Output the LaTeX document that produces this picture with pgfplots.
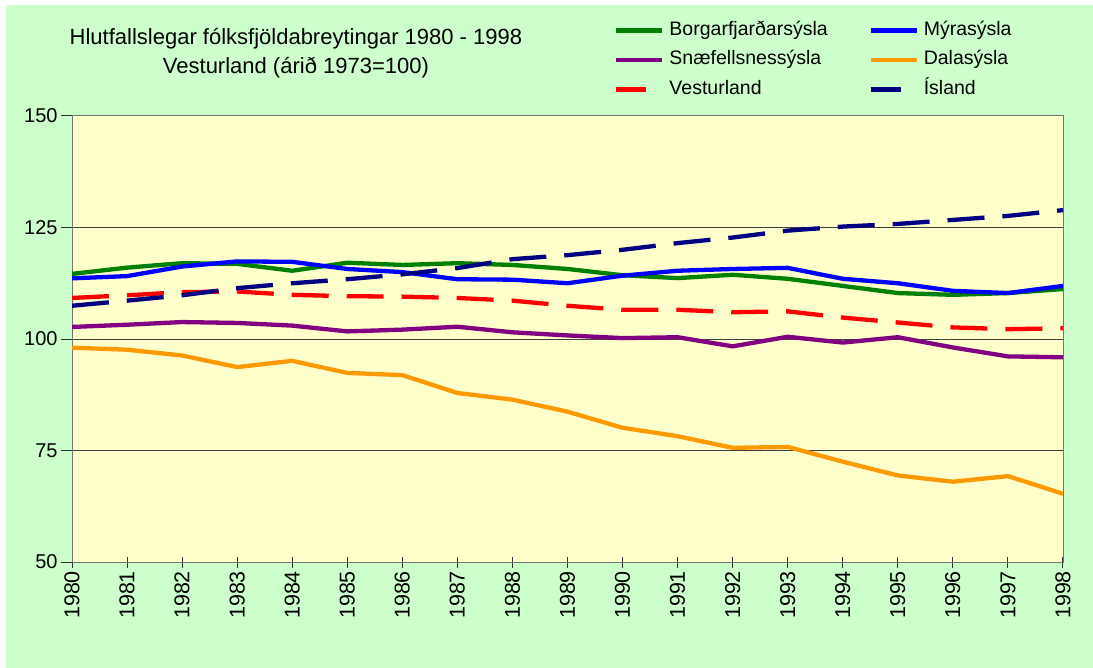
\documentclass[border=0pt]{standalone}
\usepackage{fontspec}
\setmainfont{Liberation Sans}
\usepackage{pgfplots}
\usepackage{pgfplotstable}
\pgfplotsset{compat=1.18}
\definecolor{bgg}{HTML}{CCFFCC}
\definecolor{plotbg}{HTML}{FFFFCC}
\definecolor{cgreen}{HTML}{008000}
\definecolor{cblue}{HTML}{0000FF}
\definecolor{cpurple}{HTML}{800080}
\definecolor{corange}{HTML}{FF9900}
\definecolor{cred}{HTML}{FF0000}
\definecolor{cnavy}{HTML}{000080}
\pgfplotsset{
  longleg/.style={legend image code/.code={\draw[##1] (0pt,0pt) -- (46pt,0pt); \path (51pt,0pt);}},
  shortleg/.style={legend image code/.code={\draw[##1,solid] (0pt,0pt) -- (30pt,0pt); \path (51pt,0pt);}},
}

\pgfplotstableread{
year borg myra snae dala vest isl
1980 114.6 113.6 102.7 98.05 109.2 107.45
1981 116.0 114.1 103.2 97.6 109.8 108.6
1982 117.0 116.25 103.8 96.3 110.5 109.8
1983 116.85 117.4 103.6 93.7 110.65 111.4
1984 115.3 117.3 103.0 95.1 109.9 112.5
1985 117.1 115.7 101.7 92.4 109.6 113.4
1986 116.6 115.0 102.1 91.9 109.5 114.5
1987 117.0 113.4 102.75 87.9 109.2 115.9
1988 116.6 113.3 101.5 86.4 108.6 117.9
1989 115.7 112.5 100.8 83.7 107.45 118.8
1990 114.3 114.2 100.2 80.1 106.55 120.0
1991 113.65 115.3 100.4 78.2 106.55 121.5
1992 114.4 115.7 98.35 75.6 106.0 122.75
1993 113.5 115.95 100.5 75.8 106.2 124.3
1994 111.9 113.5 99.2 72.5 104.8 125.2
1995 110.3 112.5 100.4 69.4 103.7 125.8
1996 109.9 110.8 98.1 68.0 102.6 126.7
1997 110.3 110.3 96.1 69.25 102.2 127.6
1998 111.2 111.9 95.9 65.3 102.4 128.9
}\data

\begin{document}
\begin{tikzpicture}
\fill[white] (0pt,0pt) rectangle (1093pt,-668pt);
\fill[bgg] (6pt,-5pt) rectangle (1093pt,-668pt);
\begin{axis}[
  at={(72pt,-562pt)}, anchor=south west,
  scale only axis, width=991pt, height=446pt,
  xmin=1980, xmax=1998, ymin=50, ymax=150,
  axis background/.style={fill=plotbg},
  axis line style={draw=black!55, line width=1pt},
  xtick={1980,...,1998}, ytick={50,75,100,125,150},
  tick pos=left,
  xticklabel style={rotate=90, anchor=east, font=\fontsize{21.5}{21.5}\selectfont},
  yticklabel style={font=\fontsize{20}{20}\selectfont},
  /pgf/number format/assume math mode=true,
  /pgf/number format/1000 sep={},
  tick style={black!80, line width=1pt},
  xtick align=center, ytick align=outside,
  major tick length=11pt,
  ymajorgrids, major grid style={black!75, line width=1pt},
  title={Hlutfallslegar fólksfjöldabreytingar 1980 - 1998\\Vesturland (árið 1973=100)},
  title style={at={(0.226,1.127)}, anchor=center, align=center, font=\fontsize{22}{29}\selectfont},
  legend columns=2,
  legend cell align=left,
  legend style={at={(0.5469,1.2148)}, anchor=north west, draw=none, fill=none,
    font=\fontsize{19.5}{20}\selectfont, inner sep=0pt,
    nodes={inner sep=0pt, text height=15pt, text depth=5pt}, row sep=9.5pt, column sep=0pt},
  every axis plot/.append style={line width=4.3pt, line join=round},
]
\addplot[cgreen, longleg] table[x=year,y=borg] {\data};
\addlegendentry{\makebox[199pt][l]{Borgarfjarðarsýsla}}
\addplot[cblue, longleg] table[x=year,y=myra] {\data};
\addlegendentry{Mýrasýsla}
\addplot[cpurple, longleg] table[x=year,y=snae] {\data};
\addlegendentry{\makebox[199pt][l]{Snæfellsnessýsla}}
\addplot[corange, longleg] table[x=year,y=dala] {\data};
\addlegendentry{Dalasýsla}
\addplot[cred, dash pattern=on 37pt off 18pt, shortleg] table[x=year,y=vest] {\data};
\addlegendentry{\makebox[199pt][l]{Vesturland}}
\addplot[cnavy, dash pattern=on 37pt off 18pt, shortleg] table[x=year,y=isl] {\data};
\addlegendentry{Ísland}
\end{axis}
\end{tikzpicture}
\end{document}
